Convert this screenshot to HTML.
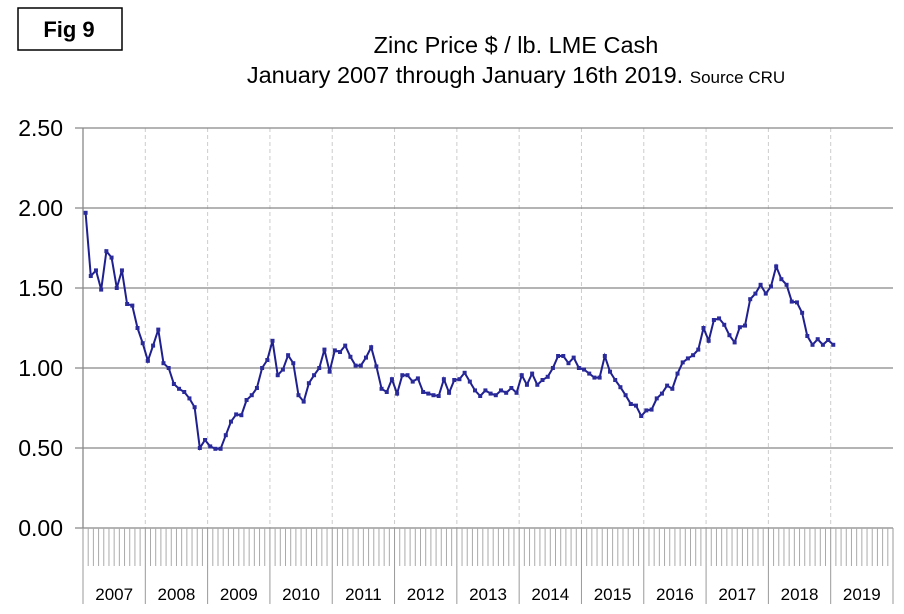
<!DOCTYPE html>
<html><head><meta charset="utf-8"><style>
body{margin:0;background:#fff;}
svg{display:block;font-family:"Liberation Sans",Arial,sans-serif;}
</style></head><body>
<svg id="c" width="904" height="614">
<rect x="18" y="8" width="104" height="42" fill="#fff" stroke="#000" stroke-width="1.5"/>
<text x="69" y="37" text-anchor="middle" font-size="22" font-weight="bold">Fig 9</text>
<text x="516" y="53" text-anchor="middle" font-size="23.5">Zinc Price $ / lb. LME Cash</text>
<text x="516" y="83" text-anchor="middle" font-size="23.5">January 2007 through January 16th 2019. <tspan font-size="17">Source CRU</tspan></text>
<g id="grid"></g><g id="axes"></g><g id="series"></g>
</svg>
<script>
const yTicks=[0,0.5,1.0,1.5,2.0,2.5];
const yTickLabels=["0.00","0.50","1.00","1.50","2.00","2.50"];
const years=["2007","2008","2009","2010","2011","2012","2013","2014","2015","2016","2017","2018","2019"];
const prices=[
1.97,1.575,1.61,1.49,1.73,1.69,1.50,1.61,1.40,1.39,1.25,1.155,
1.045,1.14,1.24,1.03,1.00,0.90,0.87,0.85,0.81,0.755,0.50,0.55,
0.51,0.495,0.495,0.58,0.665,0.71,0.705,0.80,0.83,0.875,1.00,1.05,
1.17,0.955,0.99,1.08,1.03,0.83,0.79,0.905,0.955,1.00,1.115,0.977,
1.11,1.10,1.14,1.07,1.015,1.015,1.065,1.13,1.01,0.87,0.85,0.93,
0.84,0.955,0.955,0.915,0.935,0.85,0.84,0.83,0.825,0.93,0.845,0.925,
0.93,0.97,0.915,0.86,0.825,0.86,0.84,0.83,0.86,0.845,0.875,0.845,
0.955,0.895,0.965,0.895,0.925,0.945,1.00,1.075,1.075,1.03,1.065,1.00,
0.99,0.965,0.94,0.94,1.075,0.977,0.925,0.88,0.83,0.775,0.765,0.70,
0.735,0.74,0.81,0.84,0.89,0.87,0.965,1.035,1.06,1.08,1.115,1.25,
1.17,1.30,1.31,1.27,1.205,1.16,1.255,1.265,1.43,1.465,1.52,1.465,
1.51,1.635,1.555,1.52,1.415,1.41,1.345,1.20,1.145,1.18,1.145,1.175,
1.145];
const X0=83,X1=893,Y0=528,YTOP=128;
const monthW=(X1-X0)/(years.length*12);
const xScale=i=>X0+(i+0.5)*monthW;
const yScale=v=>Y0-(v/2.5)*(Y0-YTOP);
const NS="http://www.w3.org/2000/svg";
function mk(tag,attrs,parent){const e=document.createElementNS(NS,tag);for(const k in attrs)e.setAttribute(k,attrs[k]);parent.appendChild(e);return e;}
const grid=document.getElementById('grid'),axes=document.getElementById('axes'),series=document.getElementById('series');
for(let k=1;k<years.length;k++){
 const x=X0+k*12*monthW;
 const l=mk('line',{x1:x,x2:x,y1:YTOP,y2:Y0,stroke:'#ccc','stroke-dasharray':'4,3','stroke-width':1},grid);
 
 
}
yTicks.forEach((v,i)=>{
 const y=yScale(v);
 const l=mk('line',{x1:X0-8,x2:X1,y1:y,y2:y,stroke:'#888','stroke-width':1.3},grid);
 
 
 const t=mk('text',{x:63,y:y+8,'text-anchor':'end','font-size':23},axes);
 t.textContent=yTickLabels[i];
 
 
});
const ya=mk('line',{x1:X0,x2:X0,y1:YTOP,y2:Y0,stroke:'#888','stroke-width':1.3},axes);


for(let m=1;m<years.length*12;m++){
 if(m%12===0)continue;
 const x=X0+m*monthW;
 const l=mk('line',{x1:x,x2:x,y1:Y0,y2:566,stroke:'#aaa','stroke-width':1},axes);
 
 
}
for(let k=0;k<=years.length;k++){
 const x=X0+k*12*monthW;
 const l=mk('line',{x1:x,x2:x,y1:Y0,y2:604,stroke:'#999','stroke-width':1},axes);
 
 
}
years.forEach((yr,k)=>{
 const t=mk('text',{x:X0+(k+0.5)*12*monthW,y:600,'text-anchor':'middle','font-size':17},axes);
 t.textContent=yr;
 
 
});
const pts=prices.map((v,i)=>xScale(i).toFixed(1)+','+yScale(v).toFixed(1)).join(' ');
const pl=mk('polyline',{points:pts,fill:'none',stroke:'#1f1f8f','stroke-width':2},series);


prices.forEach((v,i)=>{
 const r=mk('rect',{x:xScale(i)-2,y:yScale(v)-2,width:4,height:4,fill:'#2a2a9a'},series);
 
 
});
</script>
</body></html>
